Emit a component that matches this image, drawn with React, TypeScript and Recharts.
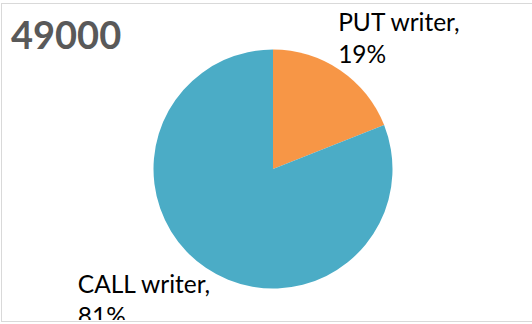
import { Cell, Pie, PieChart } from "recharts";

const categories = ["PUT writer", "CALL writer"];
const shares = [19, 81];
const colors = ["#F79646", "#4BACC6"];
const title = "49000";

const data = categories.map((name, index) => ({ name, value: shares[index] }));

const RADIAN = Math.PI / 180;

function renderLabel(props: any) {
  const { cx, cy, midAngle, outerRadius, index } = props;
  const px = cx + outerRadius * Math.cos(-midAngle * RADIAN);
  const py = cy + outerRadius * Math.sin(-midAngle * RADIAN);
  const right = px > cx;
  const x = right ? px - 2 : px - 128;
  const y1 = right ? py - 39 : py + 25;
  const entry = data[index];
  return (
    <text x={x} y={y1} fill="#000" fontSize={24.5} fontFamily="Lato" textAnchor="start">
      <tspan x={x}>{entry.name},</tspan>
      <tspan x={x} dy={32}>
        {entry.value}%
      </tspan>
    </text>
  );
}

export default function App() {
  return (
    <div style={{ position: "fixed", left: 0, top: 0, width: 532, height: 324, background: "#fff", overflow: "hidden" }}>
      <div
        style={{
          position: "absolute",
          left: 1,
          top: 3,
          width: 560,
          height: 319,
          boxSizing: "border-box",
          border: "1px solid #d9d9d9",
          overflow: "hidden"
        }}
      >
        <div
          style={{
            position: "absolute",
            left: 9,
            top: 8,
            fontFamily: "Lato",
            fontWeight: 700,
            fontSize: 38,
            lineHeight: "44px",
            color: "#595959"
          }}
        >
          {title}
        </div>
        <PieChart width={530} height={316}>
          <Pie
            data={data}
            dataKey="value"
            nameKey="name"
            cx={266}
            cy={160}
            outerRadius={119.5}
            startAngle={90}
            endAngle={-270}
            stroke="none"
            label={renderLabel}
            labelLine={false}
            isAnimationActive={false}
          >
            {data.map((entry, index) => (
              <Cell key={entry.name} fill={colors[index]} />
            ))}
          </Pie>
        </PieChart>
      </div>
    </div>
  );
}
